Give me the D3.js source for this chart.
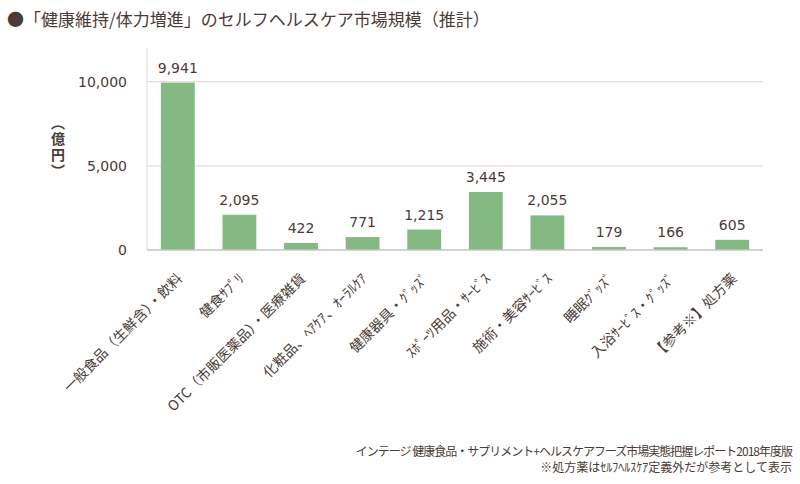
<!DOCTYPE html>
<html>
<head>
<meta charset="utf-8">
<script src="https://cdn.jsdelivr.net/npm/d3@7"></script>
<style>
  body { margin: 0; background: #fff; }
  text { fill: #4b3b35; }
</style>
</head>
<body>
<svg id="chart" width="800" height="484"></svg>
<script>
// categories and values (億円)
const categories = [
  '一般食品（生鮮含）・飲料',
  '健食ｻﾌﾟﾘ',
  'OTC（市販医薬品）・医療雑貨',
  '化粧品、ﾍｱｹｱ、ｵｰﾗﾙｹｱ',
  '健康器具・ｸﾞｯｽﾞ',
  'ｽﾎﾟｰﾂ用品・ｻｰﾋﾞｽ',
  '施術・美容ｻｰﾋﾞｽ',
  '睡眠ｸﾞｯｽﾞ',
  '入浴ｻｰﾋﾞｽ・ｸﾞｯｽﾞ',
  '【参考※】処方薬'
];
const values = [9941, 2095, 422, 771, 1215, 3445, 2055, 179, 166, 605];
const yTicks = [0, 5000, 10000];

const titleText = '●「健康維持/体力増進」のセルフヘルスケア市場規模（推計）';
const unitText = '（億円）';
const sourceLines = [
  'インテージ 健康食品・サプリメント+ヘルスケアフーズ市場実態把握レポート2018年度版',
  '※処方薬はｾﾙﾌﾍﾙｽｹｱ定義外だが参考として表示'
];

const jpFont = '"Noto Sans CJK JP", sans-serif';
const numFont = '"DejaVu Sans", Verdana, sans-serif';
const barColor = '#85b984';

const svg = d3.select('#chart');
const plotLeft = 147, plotRight = 763, plotTop = 48, plotBottom = 250;

const x = d3.scaleBand().domain(categories).range([plotLeft, plotRight])
  .paddingInner(0.45).paddingOuter(0.225);
const y = d3.scaleLinear().domain([0, 12000]).range([plotBottom, plotTop]);

// title
svg.append('text')
  .attr('x', 7).attr('y', 26)
  .style('font-family', jpFont)
  .style('font-size', '17px')
  .text(titleText);

// gridlines
svg.append('g')
  .selectAll('line')
  .data(yTicks.filter(d => d > 0))
  .join('line')
  .attr('x1', plotLeft).attr('x2', plotRight)
  .attr('y1', d => y(d)).attr('y2', d => y(d))
  .style('stroke', '#e6dcdc')
  .style('stroke-width', 1.3);

// left axis line
svg.append('line')
  .attr('x1', plotLeft).attr('x2', plotLeft)
  .attr('y1', plotTop).attr('y2', plotBottom)
  .style('stroke', '#d9d9d9');

// y tick labels
const yAxis = svg.append('g')
  .attr('transform', `translate(${plotLeft},0)`)
  .call(d3.axisLeft(y).tickValues(yTicks).tickSize(0).tickPadding(20)
    .tickFormat(d3.format(',')));
yAxis.select('.domain').remove();
yAxis.selectAll('text')
  .style('font-family', numFont)
  .style('font-size', '14px')
  .style('fill', '#4b3b35');

// y axis unit, vertical writing
svg.append('text')
  .attr('x', 58).attr('y', 148)
  .attr('text-anchor', 'middle')
  .style('writing-mode', 'vertical-rl')
  .style('letter-spacing', '2px')
  .style('font-family', jpFont)
  .style('font-size', '14px')
  .style('font-weight', 'bold')
  .text(unitText);

// bars
svg.append('g')
  .selectAll('rect')
  .data(values)
  .join('rect')
  .attr('x', (d, i) => x(categories[i]))
  .attr('width', x.bandwidth())
  .attr('y', d => y(d))
  .attr('height', d => y(0) - y(d))
  .style('fill', barColor);

// baseline
svg.append('line')
  .attr('x1', plotLeft).attr('x2', plotRight)
  .attr('y1', plotBottom).attr('y2', plotBottom)
  .style('stroke', '#c4c4c4')
  .style('stroke-width', 1.5);

// value labels
svg.append('g')
  .selectAll('text')
  .data(values)
  .join('text')
  .attr('x', (d, i) => x(categories[i]) + x.bandwidth() / 2)
  .attr('y', d => y(d) - 10)
  .attr('text-anchor', 'middle')
  .style('font-family', numFont)
  .style('font-size', '14px')
  .text(d3.format(','));

// category labels, rotated
svg.append('g')
  .selectAll('text')
  .data(categories)
  .join('text')
  .attr('transform', d => `translate(${x(d) + x.bandwidth() / 2 + 2},${plotBottom + 26}) rotate(-45)`)
  .attr('text-anchor', 'end')
  .attr('dy', '0.35em')
  .style('font-family', jpFont)
  .style('font-size', '14px')
  .text(d => d);

// source note
svg.append('g')
  .selectAll('text')
  .data(sourceLines)
  .join('text')
  .attr('x', 792)
  .attr('y', (d, i) => 456 + i * 16)
  .attr('text-anchor', 'end')
  .style('font-family', jpFont)
  .style('font-size', '12px')
  .style('letter-spacing', (d, i) => i === 0 ? '-1px' : null)
  .text(d => d);
</script>
</body>
</html>
